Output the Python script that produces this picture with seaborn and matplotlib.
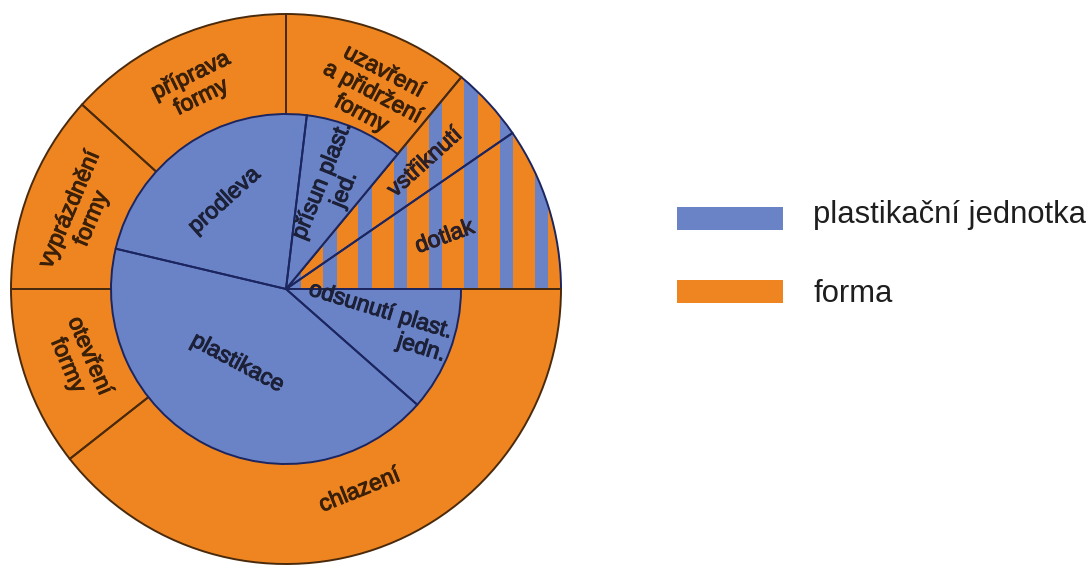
import matplotlib
matplotlib.use("Agg")
import numpy as np
import matplotlib.pyplot as plt
import matplotlib.patheffects as pe
from matplotlib.patches import Rectangle
import seaborn as sns

# ---------------- data (share of the injection-moulding cycle, %) ----------------
inner_labels = ["dotlak", "vstřiknutí", "přísun plast.\njed.", "prodleva",
                "plastikace", "odsunutí plast.\njedn."]
inner_values = [9.6, 4.4, 9.1, 23.2, 42.2, 11.5]

outer_labels = ["dotlak", "vstřiknutí", "uzavření\na přidržení\nformy",
                "příprava\nformy", "vyprázdnění\nformy", "otevření\nformy", "chlazení"]
outer_values = [9.6, 4.4, 11.0, 13.3, 11.7, 10.6, 39.4]

shared_phases = ["dotlak", "vstřiknutí"]          # both units active (striped)
legend_labels = ["plastikační jednotka", "forma"]

# ---------------- style ----------------
sns.set_theme(style="white")
plt.rcParams["font.family"] = ["Liberation Sans", "DejaVu Sans"]

BLUE, ORANGE = sns.color_palette(["#6A82C6", "#EF8520"])
BROWN = "#4a2a0c"
NAVY = "#1b2560"
TXT_BLUE = "#1c2138"
TXT_ORANGE = "#3a2008"
TXT_MIX = "#2b2028"

W, H = 1088, 565
fig = plt.figure(figsize=(W / 100, H / 100), dpi=100)
ax = fig.add_axes([0, 0, 1, 1])

cx, cy = 286, 276
R_OUT, R_IN = 275, 175
LW = 1.4

# label layout: (radius, rotation, angle offset)
inner_layout = {
    "dotlak": (167, 20, 1),
    "vstřiknutí": (188, 42, 0),
    "přísun plast.\njed.": (114, 68, -1),
    "prodleva": (108, 42, 0),
    "plastikace": (88, -28, -6),
    "odsunutí plast.\njedn.": (97, -17, 1),
}
outer_layout = {
    "uzavření\na přidržení\nformy": (215, -28, -4),
    "příprava\nformy": (222, 26, 0),
    "vyprázdnění\nformy": (219, 67, 1),
    "otevření\nformy": (219, -67, 0),
    "chlazení": (214, 22, 1),
}

# outer ring (forma) fill
w_out, _ = ax.pie(outer_values, radius=R_OUT, center=(cx, cy), startangle=0,
                  counterclock=True, colors=[ORANGE] * len(outer_values),
                  wedgeprops=dict(linewidth=0, zorder=1))

# vertical stripes for shared phases
period, stripe_w, x_first = 35.3, 13.5, 323
for lab, w in zip(outer_labels, w_out):
    if lab in shared_phases:
        for k in range(-3, 10):
            r = Rectangle((x_first + period * k, 0), stripe_w, H,
                          facecolor=BLUE, linewidth=0, zorder=1.5)
            ax.add_patch(r)
            r.set_clip_path(w)

# outer edges
w_out_e, _ = ax.pie(outer_values, radius=R_OUT, center=(cx, cy), startangle=0,
                    counterclock=True, colors=[ORANGE] * len(outer_values),
                    wedgeprops=dict(fill=False, edgecolor=BROWN, linewidth=LW, zorder=1.8))
for lab, w in zip(outer_labels, w_out_e):
    if lab in shared_phases:
        w.set_edgecolor(NAVY)

# inner pie (plastikační jednotka)
w_in, _ = ax.pie(inner_values, radius=R_IN, center=(cx, cy), startangle=0,
                 counterclock=True, colors=[BLUE] * len(inner_values),
                 wedgeprops=dict(linewidth=0, zorder=2))
w_in_e, _ = ax.pie(inner_values, radius=R_IN, center=(cx, cy), startangle=0,
                   counterclock=True, colors=[BLUE] * len(inner_values),
                   wedgeprops=dict(fill=False, edgecolor=NAVY, linewidth=LW, zorder=3))
for lab, wf, we in zip(inner_labels, w_in, w_in_e):
    if lab in shared_phases:
        wf.set_visible(False)
        we.set_visible(False)

FS = 16.5


def put_label(w, lab, r, rot, dang, color, malign="center"):
    mid = np.deg2rad((w.theta1 + w.theta2) / 2 + dang)
    x = cx + r * np.cos(mid)
    y = cy + r * np.sin(mid)
    ax.text(x, y, lab, rotation=rot, rotation_mode="anchor", ha="center",
            va="center", fontsize=FS, color=color, linespacing=1.05,
            multialignment=malign, zorder=5,
            path_effects=[pe.withStroke(linewidth=0.75, foreground=color)])


for lab, w in zip(inner_labels, w_in):
    r, rot, dang = inner_layout[lab]
    col = TXT_MIX if lab in shared_phases else TXT_BLUE
    put_label(w, lab, r, rot, dang, col, "right" if lab.startswith("odsun") else "center")
for lab, w in zip(outer_labels, w_out):
    if lab in shared_phases:
        continue
    r, rot, dang = outer_layout[lab]
    put_label(w, lab, r, rot, dang, TXT_ORANGE)

# legend
for (y_top, y_base), col, lab in zip([(230, 223), (303, 302)], [BLUE, ORANGE], legend_labels):
    ax.add_patch(Rectangle((677, H - y_top), 106, 23.5, facecolor=col, linewidth=0))
    ax.text(813, H - y_base, lab, fontsize=22.3, color="#1e1e1e", va="baseline", ha="left")

ax.set_xlim(0, W)
ax.set_ylim(0, H)
ax.set_aspect("equal")
ax.axis("off")
fig.savefig("out.png", dpi=100, facecolor="white")
